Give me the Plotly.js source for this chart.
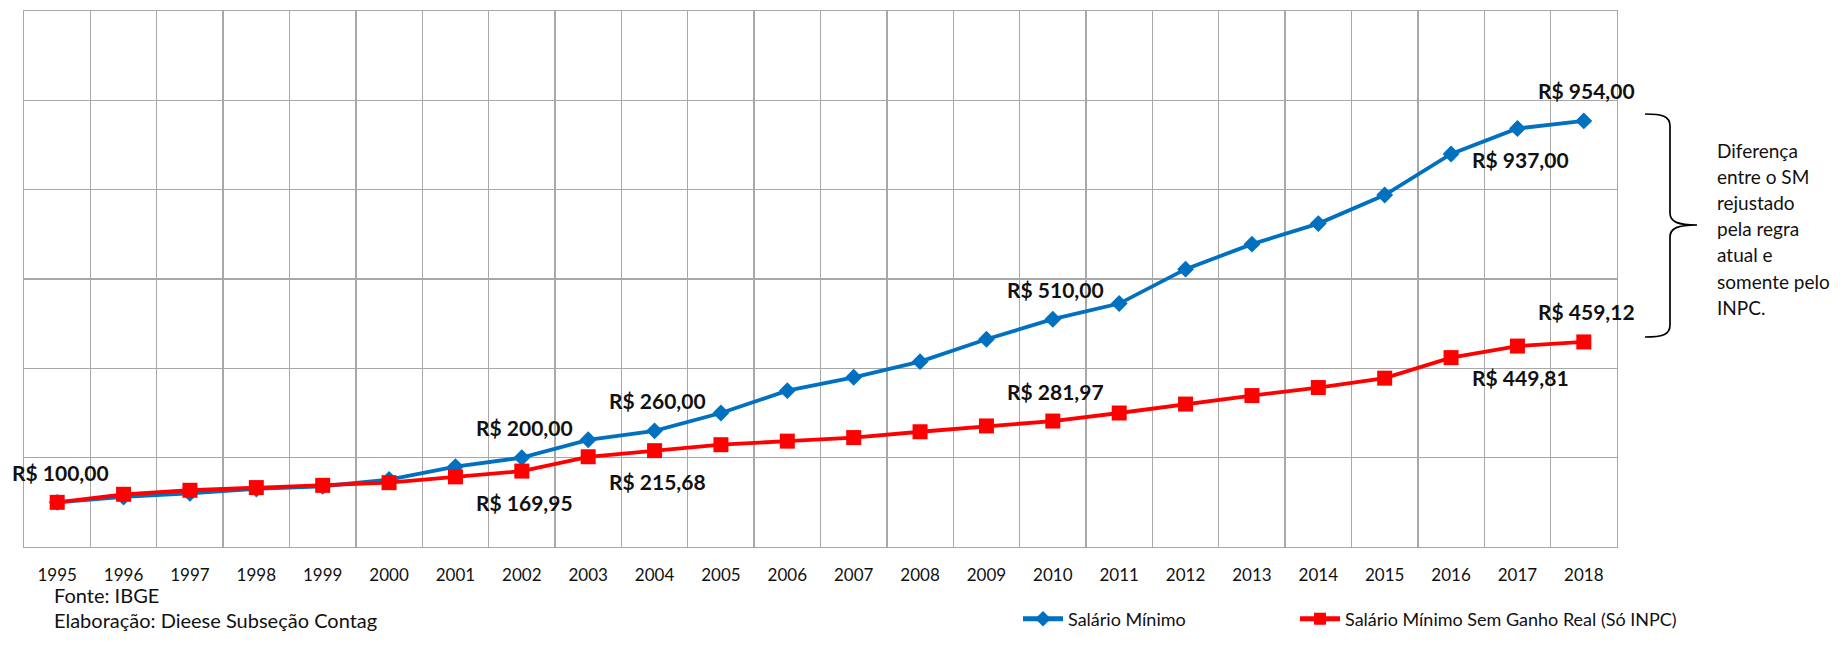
<!DOCTYPE html>
<html>
<head>
<meta charset="utf-8">
<script src="https://cdn.plot.ly/plotly-3.0.1.min.js"></script>
<style>
  html, body { margin: 0; padding: 0; background: #ffffff; }
  #chart { width: 1840px; height: 660px; }
</style>
</head>
<body>
<div id="chart"></div>
<script>
// ---------------- data ----------------
const years = ['1995','1996','1997','1998','1999','2000','2001','2002','2003','2004','2005','2006',
               '2007','2008','2009','2010','2011','2012','2013','2014','2015','2016','2017','2018'];
const salarioMinimo = [100,112,120,130,136,151,180,200,240,260,300,350,
                       380,415,465,510,545,622,678,724,788,880,937,954];
const semGanhoReal = [100,118,127,133,138,144,157,169.95,202,215.68,229,237,
                      245,258,271,281.97,300,320,339,357,378,424,449.81,459.12];
const seriesNames = ['Salário Mínimo', 'Salário Mínimo Sem Ganho Real (Só INPC)'];
const labelledPoints = [
  {series: 0, year: '1995', side: 'above'},
  {series: 0, year: '2002', side: 'above'},
  {series: 1, year: '2002', side: 'below'},
  {series: 0, year: '2004', side: 'above'},
  {series: 1, year: '2004', side: 'below'},
  {series: 0, year: '2010', side: 'above'},
  {series: 1, year: '2010', side: 'above'},
  {series: 0, year: '2017', side: 'below'},
  {series: 0, year: '2018', side: 'above'},
  {series: 1, year: '2017', side: 'below'},
  {series: 1, year: '2018', side: 'above'}
];
const braceNote = ['Diferença', 'entre o SM', 'rejustado', 'pela regra', 'atual e', 'somente pelo', 'INPC.'];
const footnotes = ['Fonte: IBGE', 'Elaboração: Dieese Subseção Contag'];

// ---------------- layout geometry ----------------
const W = 1840, H = 660;
const M = {l: 24, r: 223, t: 11, b: 113};
const PW = W - M.l - M.r, PH = H - M.t - M.b;
const px = x => (x - M.l) / PW;
const py = y => (H - M.b - y) / PH;

const FONT = 'Lato, "Open Sans", sans-serif';
const BLUE = '#0070C0', RED = '#FF0000', GRID = '#A8A8A8', TXT = '#111111';

const allSeries = [salarioMinimo, semGanhoReal];
const fmt = v => 'R$ ' + v.toFixed(2).replace('.', ',');

const traces = [
  {
    type: 'scatter', mode: 'lines+markers', name: seriesNames[0],
    x: years, y: salarioMinimo,
    line: {color: BLUE, width: 3.8},
    marker: {symbol: 'diamond', size: 13, color: BLUE},
    legend: 'legend', cliponaxis: false, hoverinfo: 'skip'
  },
  {
    type: 'scatter', mode: 'lines+markers', name: seriesNames[1],
    x: years, y: semGanhoReal,
    line: {color: RED, width: 3.8},
    marker: {symbol: 'square', size: 15, color: RED},
    legend: 'legend2', cliponaxis: false, hoverinfo: 'skip'
  }
];

const annotations = [];
labelledPoints.forEach(p => {
  const i = years.indexOf(p.year);
  const v = allSeries[p.series][i];
  annotations.push({
    xref: 'x', yref: 'y', x: i, y: v,
    text: fmt(v), showarrow: false,
    xanchor: 'center', yanchor: 'middle',
    xshift: 3, yshift: p.side === 'above' ? 30 : -31,
    font: {family: FONT, size: 21, color: TXT, weight: 700}
  });
});
footnotes.forEach((t, k) => {
  annotations.push({
    xref: 'paper', yref: 'paper', x: px(52), y: py(594.5 + k * 25.5),
    text: t, showarrow: false, xanchor: 'left', yanchor: 'middle',
    font: {family: FONT, size: 20, color: TXT}
  });
});
braceNote.forEach((t, k) => {
  annotations.push({
    xref: 'paper', yref: 'paper', x: px(1715), y: py(150 + k * 26.2),
    text: t, showarrow: false, xanchor: 'left', yanchor: 'middle',
    font: {family: FONT, size: 19, color: TXT}
  });
});

// curly brace drawn in pixel space, converted to paper coords
const P = (x, y) => px(x).toFixed(5) + ',' + py(y).toFixed(5);
const bracePath =
  'M' + P(1645, 114) +
  ' C' + P(1662, 114) + ' ' + P(1670, 116) + ' ' + P(1670, 126) +
  ' L' + P(1670, 213) +
  ' C' + P(1670, 222) + ' ' + P(1678, 225) + ' ' + P(1697, 225) +
  ' C' + P(1678, 225) + ' ' + P(1670, 228) + ' ' + P(1670, 237) +
  ' L' + P(1670, 325) +
  ' C' + P(1670, 335) + ' ' + P(1662, 337) + ' ' + P(1645, 337);

const legendBase = {
  orientation: 'h', xref: 'paper', yref: 'paper',
  xanchor: 'left', yanchor: 'middle',
  bgcolor: 'rgba(0,0,0,0)', borderwidth: 0,
  itemsizing: 'constant', itemwidth: 40,
  font: {family: FONT, size: 18, color: TXT}
};

const layout = {
  width: W, height: H,
  margin: {l: M.l, r: M.r, t: M.t, b: M.b, autoexpand: false},
  paper_bgcolor: '#ffffff', plot_bgcolor: '#ffffff',
  showlegend: true,
  legend: Object.assign({}, legendBase, {x: px(1018), y: py(619)}),
  legend2: Object.assign({}, legendBase, {x: px(1295), y: py(619)}),
  xaxis: {
    type: 'category', tickson: 'boundaries',
    range: [-0.5, years.length - 0.5], autorange: false,
    categoryorder: 'array', categoryarray: years,
    showgrid: true, gridcolor: GRID, gridwidth: 1.3,
    showline: true, linecolor: GRID, linewidth: 1.3, mirror: true,
    ticks: '', ticklabelstandoff: 12, tickangle: 0,
    tickfont: {family: FONT, size: 17, color: TXT},
    fixedrange: true
  },
  yaxis: {
    range: [0, 1200], autorange: false, dtick: 200, tick0: 0,
    showgrid: true, gridcolor: GRID, gridwidth: 1.3,
    showline: true, linecolor: GRID, linewidth: 1.3, mirror: true,
    zeroline: false, showticklabels: false, ticks: '',
    fixedrange: true
  },
  annotations: annotations,
  shapes: [{
    type: 'path', xref: 'paper', yref: 'paper', path: bracePath,
    line: {color: '#000000', width: 1.7}
  }],
  hovermode: false
};

Plotly.newPlot('chart', traces, layout, {displayModeBar: false, staticPlot: true});
</script>
</body>
</html>
